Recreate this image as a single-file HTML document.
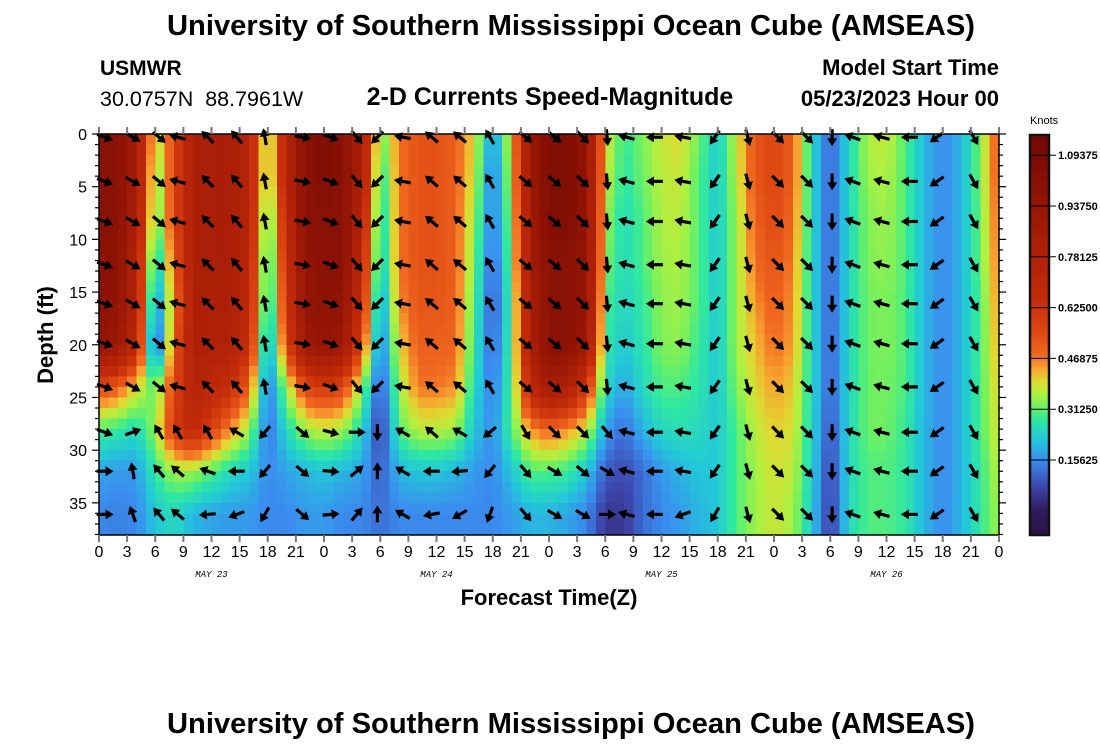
<!DOCTYPE html>
<html><head><meta charset="utf-8">
<style>
body{margin:0;background:#fff;}
svg{display:block;font-family:"Liberation Sans",sans-serif;}
</style></head>
<body>
<svg id="chart" width="1100" height="750" viewBox="0 0 1100 750">
<text x="571" y="35" text-anchor="middle" font-size="29" font-weight="bold" textLength="808" lengthAdjust="spacingAndGlyphs">University of Southern Mississippi Ocean Cube (AMSEAS)</text>
<text x="100" y="75" font-size="21" font-weight="bold">USMWR</text>
<text x="100" y="106" font-size="21.5" xml:space="preserve">30.0757N  88.7961W</text>
<text x="550" y="105" text-anchor="middle" font-size="25" font-weight="bold">2-D Currents Speed-Magnitude</text>
<text x="999" y="75" text-anchor="end" font-size="22" font-weight="bold">Model Start Time</text>
<text x="999" y="106" text-anchor="end" font-size="22" font-weight="bold">05/23/2023 Hour 00</text>
<text x="1030" y="124" font-size="11">Knots</text>
<text transform="translate(53,335) rotate(-90)" text-anchor="middle" font-size="22" font-weight="bold">Depth (ft)</text>
<text x="549" y="605" text-anchor="middle" font-size="22" font-weight="bold">Forecast Time(Z)</text>
<text x="571" y="733" text-anchor="middle" font-size="29" font-weight="bold" textLength="808" lengthAdjust="spacingAndGlyphs">University of Southern Mississippi Ocean Cube (AMSEAS)</text>
<g id="heat" shape-rendering="crispEdges"></g>
<g id="arrows"></g>
<g id="axes"></g>
<g id="cbar"></g>
</svg>
<script>
// ---- data ----
const profileTimes = [0,2,4,6,8,10,12,14,16,18,20,22,24,26,28,30,32,34,36,38,40,42,44,46,48,50,52,54,56,58,60,62,64,66,68,70,72,74,76,78,80,82,84,86,88,90,92,94,96];
const profileDepths = [0,4,8,12,16,20,24,28,32,36];
const speedProfiles = [
[1.0,1.0,1.0,1.0,1.0,0.95,0.55,0.3,0.18,0.15],
[1.0,1.0,1.0,0.98,0.95,0.9,0.5,0.28,0.17,0.14],
[0.85,0.85,0.8,0.75,0.75,0.7,0.4,0.25,0.17,0.15],
[0.35,0.3,0.28,0.2,0.12,0.05,0.3,0.35,0.28,0.22],
[0.55,0.55,0.55,0.5,0.45,0.5,0.55,0.6,0.35,0.25],
[0.8,0.8,0.8,0.8,0.8,0.8,0.75,0.7,0.35,0.2],
[0.82,0.82,0.82,0.82,0.8,0.78,0.7,0.58,0.3,0.18],
[0.82,0.82,0.82,0.82,0.8,0.78,0.65,0.45,0.25,0.17],
[0.75,0.75,0.75,0.72,0.7,0.65,0.5,0.35,0.22,0.17],
[0.3,0.3,0.25,0.22,0.2,0.15,0.12,0.12,0.15,0.15],
[0.75,0.75,0.7,0.65,0.6,0.55,0.35,0.25,0.18,0.15],
[1.0,1.0,1.0,0.95,0.95,0.9,0.55,0.35,0.2,0.17],
[1.05,1.05,1.0,1.0,0.98,0.95,0.6,0.38,0.22,0.17],
[1.0,1.0,1.0,1.0,0.95,0.9,0.55,0.35,0.2,0.15],
[0.8,0.8,0.75,0.7,0.65,0.55,0.35,0.25,0.18,0.15],
[0.3,0.25,0.22,0.2,0.15,0.12,0.08,0.05,0.1,0.12],
[0.47,0.47,0.47,0.47,0.45,0.4,0.35,0.3,0.2,0.15],
[0.53,0.53,0.53,0.53,0.52,0.5,0.47,0.37,0.22,0.15],
[0.53,0.53,0.53,0.53,0.52,0.5,0.47,0.37,0.22,0.15],
[0.5,0.5,0.5,0.5,0.5,0.49,0.45,0.35,0.2,0.15],
[0.4,0.38,0.35,0.33,0.3,0.28,0.25,0.22,0.17,0.15],
[0.15,0.12,0.12,0.1,0.08,0.1,0.13,0.15,0.15,0.15],
[0.4,0.38,0.35,0.33,0.3,0.3,0.3,0.3,0.22,0.17],
[0.9,0.9,0.85,0.85,0.82,0.8,0.7,0.45,0.3,0.2],
[1.05,1.05,1.05,1.0,1.0,1.0,0.85,0.5,0.3,0.2],
[1.05,1.05,1.05,1.0,1.0,1.0,0.8,0.45,0.28,0.18],
[0.95,0.95,0.95,0.95,0.95,0.9,0.6,0.38,0.22,0.15],
[0.4,0.38,0.35,0.33,0.3,0.28,0.25,0.18,0.1,0.05],
[0.28,0.27,0.25,0.25,0.24,0.22,0.18,0.12,0.08,0.05],
[0.33,0.32,0.3,0.3,0.28,0.27,0.25,0.2,0.12,0.12],
[0.38,0.37,0.36,0.35,0.34,0.33,0.3,0.25,0.17,0.15],
[0.4,0.38,0.37,0.36,0.35,0.34,0.3,0.26,0.2,0.17],
[0.32,0.3,0.3,0.3,0.3,0.28,0.27,0.25,0.22,0.2],
[0.22,0.22,0.22,0.22,0.22,0.22,0.22,0.22,0.22,0.22],
[0.38,0.37,0.35,0.35,0.35,0.35,0.33,0.3,0.3,0.3],
[0.52,0.52,0.5,0.48,0.45,0.42,0.4,0.37,0.35,0.35],
[0.56,0.56,0.55,0.53,0.5,0.48,0.44,0.41,0.39,0.38],
[0.5,0.5,0.48,0.46,0.45,0.44,0.41,0.39,0.37,0.35],
[0.25,0.25,0.25,0.25,0.25,0.25,0.25,0.25,0.24,0.23],
[0.1,0.1,0.1,0.1,0.1,0.1,0.1,0.08,0.06,0.05],
[0.25,0.25,0.25,0.25,0.25,0.25,0.25,0.25,0.25,0.25],
[0.36,0.35,0.33,0.33,0.32,0.32,0.32,0.32,0.3,0.3],
[0.38,0.36,0.35,0.34,0.33,0.33,0.32,0.32,0.3,0.3],
[0.3,0.3,0.3,0.3,0.3,0.3,0.3,0.28,0.28,0.28],
[0.2,0.2,0.2,0.2,0.2,0.2,0.2,0.2,0.2,0.2],
[0.15,0.15,0.15,0.15,0.15,0.15,0.15,0.15,0.15,0.15],
[0.2,0.2,0.2,0.2,0.2,0.2,0.2,0.2,0.2,0.2],
[0.33,0.33,0.32,0.32,0.3,0.3,0.3,0.3,0.28,0.28],
[0.52,0.52,0.5,0.48,0.46,0.44,0.41,0.39,0.37,0.35]
];
const arrowTimes = [0.6,3.6,6.4,8.4,11.6,14.7,17.7,21.7,24.7,27.5,29.7,32.4,35.5,38.5,41.7,45.5,48.6,51.6,54.2,56.3,59.3,62.3,65.7,69.2,72.4,75.5,78.2,80.4,83.5,86.5,89.4,93.3];
const arrowDepths = [0.3,4.5,8.3,12.4,16.1,19.9,24,28.3,32,36.1];
const angleUpper = [20,30,40,-165,-135,-130,-100,10,20,50,135,-170,-140,-140,-120,40,40,45,85,-165,180,-170,125,75,45,45,90,-160,-165,180,145,60];
const angle28 = [20,-20,-120,-120,-120,-150,130,40,15,0,90,-150,-140,-150,140,60,45,45,50,-165,180,-170,125,75,45,45,90,-160,-165,180,145,60];
const angle32 = [0,-100,-130,-140,-160,180,130,40,5,-40,-90,-150,180,175,130,50,30,40,30,-165,180,-170,125,75,45,45,90,-160,-165,180,145,60];
const angle36 = [0,-110,-130,-140,175,160,120,40,-5,-50,-90,-150,170,150,110,50,30,30,0,-165,180,160,120,75,45,45,90,-160,-165,180,145,60];
const xTickLabels = ["0","3","6","9","12","15","18","21","0","3","6","9","12","15","18","21","0","3","6","9","12","15","18","21","0","3","6","9","12","15","18","21","0"];
const dateLabels = ["MAY 23","MAY 24","MAY 25","MAY 26"];
const yTickLabels = ["0","5","10","15","20","25","30","35"];
const cbarLabels = ["1.09375","0.93750","0.78125","0.62500","0.46875","0.31250","0.15625"];
const cbarValues = [1.09375,0.9375,0.78125,0.625,0.46875,0.3125,0.15625];

// ---- scales ----
const X0=99, X1=999, Y0=134, Y1=535, TMAX=96, DMAX=38.05;
const xS = t => X0 + t*(X1-X0)/TMAX;
const yS = d => Y0 + d*(Y1-Y0)/DMAX;
const NS="http://www.w3.org/2000/svg";
function mk(tag, attrs, parent){const e=document.createElementNS(NS,tag);for(const k in attrs)e.setAttribute(k,attrs[k]);parent.appendChild(e);return e;}
const stops=[[-0.1,[40,18,60]],[0.0,[48,26,90]],[0.08,[62,74,178]],[0.156,[58,142,240]],[0.22,[34,200,216]],[0.28,[48,232,160]],[0.32,[112,240,96]],[0.36,[176,240,64]],[0.40,[224,216,48]],[0.44,[248,160,48]],[0.48,[240,104,32]],[0.55,[222,72,18]],[0.65,[196,44,10]],[0.85,[165,28,6]],[1.1,[120,10,4]],[1.3,[100,6,4]]];
function col(v){
  for(let i=0;i<stops.length-1;i++){const a=stops[i],b=stops[i+1];
    if(v<=b[0]){const f=Math.max(0,(v-a[0])/(b[0]-a[0]));const c=a[1].map((x,k)=>Math.round(x+(b[1][k]-x)*f));return `rgb(${c[0]},${c[1]},${c[2]})`;}}
  const c=stops[stops.length-1][1];return `rgb(${c[0]},${c[1]},${c[2]})`;
}
function sample(t,d){
  let i=0;while(i<profileTimes.length-2&&profileTimes[i+1]<t)i++;
  const ft=Math.min(1,Math.max(0,(t-profileTimes[i])/(profileTimes[i+1]-profileTimes[i])));
  let j=0;while(j<profileDepths.length-2&&profileDepths[j+1]<d)j++;
  const fd=Math.min(1,Math.max(0,(d-profileDepths[j])/(profileDepths[j+1]-profileDepths[j])));
  const a=speedProfiles[i][j]*(1-fd)+speedProfiles[i][j+1]*fd;
  const b=speedProfiles[i+1][j]*(1-fd)+speedProfiles[i+1][j+1]*fd;
  return a*(1-ft)+b*ft;
}
// ---- heatmap ----
const heat=document.getElementById('heat');
for(let t=0;t<TMAX;t++){
  for(let d=0;d<DMAX;d++){
    const d2=Math.min(d+1,DMAX);
    const r=mk('rect',{x:xS(t).toFixed(2),y:yS(d).toFixed(2),width:(xS(t+1)-xS(t)+0.6).toFixed(2),height:(yS(d2)-yS(d)+0.6).toFixed(2),fill:col(sample(t+0.5,(d+d2)/2))},heat);
    
    
  }
}
// ---- arrows ----
const arr=document.getElementById('arrows');
arrowTimes.forEach((t,i)=>{
  arrowDepths.forEach((d,j)=>{
    const a = j<7?angleUpper[i]:(j===7?angle28[i]:(j===8?angle32[i]:angle36[i]));
    const g=mk('g',{transform:`translate(${xS(t).toFixed(1)},${yS(d).toFixed(1)}) rotate(${a})`},arr);
    
    
    mk('line',{x1:-8,y1:0,x2:2,y2:0,stroke:'#000','stroke-width':3.2},g);
    mk('path',{d:'M1,-5 L9,0 L1,5 Z',fill:'#000'},g);
  });
});
// ---- axes ----
const ax=document.getElementById('axes');
mk('rect',{x:X0,y:Y0,width:X1-X0,height:Y1-Y0,fill:'none',stroke:'#000','stroke-width':1.5},ax);
xTickLabels.forEach((lab,i)=>{
  const x=xS(i*3);
  mk('line',{x1:x,y1:Y1,x2:x,y2:Y1+7,stroke:'#777','stroke-width':2},ax);
  mk('line',{x1:x,y1:Y0,x2:x,y2:Y0-7,stroke:'#777','stroke-width':2},ax);
  const tx=mk('text',{x:x,y:Y1+22,'text-anchor':'middle','font-size':16},ax);
  tx.textContent=lab;
  
  
});
dateLabels.forEach((lab,i)=>{
  const tx=mk('text',{x:xS(12+24*i),y:Y1+42,'text-anchor':'middle','font-size':9,'font-style':'italic','font-family':'Liberation Mono, monospace'},ax);
  tx.textContent=lab;
  
  
});
for(let d=0;d<=38;d++){
  const y=yS(d);const L=d%5===0?7:4;
  mk('line',{x1:X0,y1:y,x2:X0-L,y2:y,stroke:'#000','stroke-width':1.2},ax);
  mk('line',{x1:X1,y1:y,x2:X1+L,y2:y,stroke:'#000','stroke-width':1.2},ax);
}
yTickLabels.forEach((lab,i)=>{
  const tx=mk('text',{x:87,y:yS(i*5)+6,'text-anchor':'end','font-size':16},ax);
  tx.textContent=lab;
  
  
});
// ---- colorbar ----
const cb=document.getElementById('cbar');
const CB0=135, CB1=535, CX=1030, CW=19;
const cbY = v => 460 - (v-0.15625)/0.15625*50.8;
const cbV = y => 0.15625 + (460-y)/50.8*0.15625;
for(let y=CB0;y<CB1;y+=2){
  mk('rect',{x:CX,y:y,width:CW,height:2.6,fill:col(cbV(y+1))},cb);
}
mk('rect',{x:CX,y:CB0,width:CW,height:CB1-CB0,fill:'none',stroke:'#111','stroke-width':2.5},cb);
cbarValues.forEach((v,i)=>{
  const y=cbY(v);
  mk('line',{x1:CX,y1:y,x2:CX+CW+7,y2:y,stroke:'#000','stroke-width':1},cb);
  const tx=mk('text',{x:CX+28,y:y+4,'font-size':11,'font-weight':'bold'},cb);
  tx.textContent=cbarLabels[i];
  
  
});
</script>
</body></html>
